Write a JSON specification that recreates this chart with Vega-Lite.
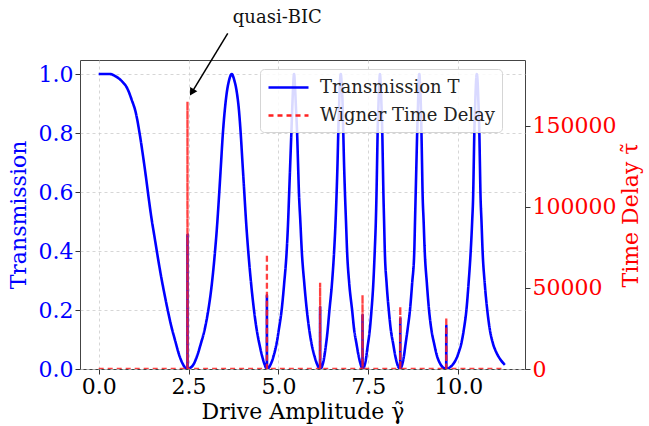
{
  "$schema": "https://vega.github.io/schema/vega-lite/v6.json",
  "autosize": "none",
  "width": 445,
  "height": 309,
  "padding": {"left": 80, "top": 60, "right": 124, "bottom": 57},
  "background": "white",
  "config": {
    "font": "DejaVu Serif",
    "view": {"stroke": "#444444", "strokeWidth": 1},
    "axis": {
      "labelFont": "DejaVu Serif",
      "titleFont": "DejaVu Serif",
      "labelFontSize": 22,
      "titleFontSize": 22,
      "titleFontWeight": "normal",
      "tickColor": "#333333",
      "tickSize": 5,
      "labelPadding": 2,
      "domain": false,
      "gridDash": [3, 3],
      "gridColor": "#cccccc",
      "gridWidth": 0.8
    },
    "legend": {
      "orient": "none", "legendX": 180, "legendY": 9,
      "symbolType": "M-1,0H3", "symbolSize": 400, "symbolStrokeWidth": 2.6,
      "labelFont": "DejaVu Serif", "labelFontSize": 18, "labelColor": "#222222", "labelOffset": 30, "labelLimit": 400,
      "fillColor": "rgba(255,255,255,0.85)", "strokeColor": "#d5d5d5", "cornerRadius": 4, "padding": 7, "rowPadding": 7
    }
  },
  "datasets": {
    "trans": [
      {"x": 0, "y": 1.0, "s": "Transmission T"},
      {"x": 0.3, "y": 1.0, "s": "Transmission T"},
      {"x": 0.5, "y": 0.99, "s": "Transmission T"},
      {"x": 0.65, "y": 0.975, "s": "Transmission T"},
      {"x": 0.8, "y": 0.95, "s": "Transmission T"},
      {"x": 0.92, "y": 0.912, "s": "Transmission T"},
      {"x": 1.03, "y": 0.87, "s": "Transmission T"},
      {"x": 1.15, "y": 0.79, "s": "Transmission T"},
      {"x": 1.23, "y": 0.725, "s": "Transmission T"},
      {"x": 1.31, "y": 0.655, "s": "Transmission T"},
      {"x": 1.39, "y": 0.58, "s": "Transmission T"},
      {"x": 1.47, "y": 0.51, "s": "Transmission T"},
      {"x": 1.55, "y": 0.45, "s": "Transmission T"},
      {"x": 1.63, "y": 0.39, "s": "Transmission T"},
      {"x": 1.72, "y": 0.325, "s": "Transmission T"},
      {"x": 1.82, "y": 0.26, "s": "Transmission T"},
      {"x": 1.92, "y": 0.2, "s": "Transmission T"},
      {"x": 2.02, "y": 0.145, "s": "Transmission T"},
      {"x": 2.13, "y": 0.095, "s": "Transmission T"},
      {"x": 2.22, "y": 0.055, "s": "Transmission T"},
      {"x": 2.32, "y": 0.022, "s": "Transmission T"},
      {"x": 2.39, "y": 0.007, "s": "Transmission T"},
      {"x": 2.468, "y": 0.0, "s": "Transmission T"},
      {"x": 2.47, "y": 0.455, "s": "Transmission T"},
      {"x": 2.472, "y": 0.0, "s": "Transmission T"},
      {"x": 2.56, "y": 0.005, "s": "Transmission T"},
      {"x": 2.64, "y": 0.016, "s": "Transmission T"},
      {"x": 2.74, "y": 0.045, "s": "Transmission T"},
      {"x": 2.84, "y": 0.085, "s": "Transmission T"},
      {"x": 2.95, "y": 0.135, "s": "Transmission T"},
      {"x": 3.05, "y": 0.2, "s": "Transmission T"},
      {"x": 3.14, "y": 0.28, "s": "Transmission T"},
      {"x": 3.23, "y": 0.39, "s": "Transmission T"},
      {"x": 3.29, "y": 0.48, "s": "Transmission T"},
      {"x": 3.35, "y": 0.59, "s": "Transmission T"},
      {"x": 3.4, "y": 0.69, "s": "Transmission T"},
      {"x": 3.45, "y": 0.79, "s": "Transmission T"},
      {"x": 3.51, "y": 0.88, "s": "Transmission T"},
      {"x": 3.56, "y": 0.934, "s": "Transmission T"},
      {"x": 3.63, "y": 0.98, "s": "Transmission T"},
      {"x": 3.7, "y": 1.0, "s": "Transmission T"},
      {"x": 3.77, "y": 0.98, "s": "Transmission T"},
      {"x": 3.84, "y": 0.94, "s": "Transmission T"},
      {"x": 3.9, "y": 0.88, "s": "Transmission T"},
      {"x": 3.95, "y": 0.8, "s": "Transmission T"},
      {"x": 4.0, "y": 0.7, "s": "Transmission T"},
      {"x": 4.05, "y": 0.6, "s": "Transmission T"},
      {"x": 4.1, "y": 0.5, "s": "Transmission T"},
      {"x": 4.16, "y": 0.4, "s": "Transmission T"},
      {"x": 4.24, "y": 0.29, "s": "Transmission T"},
      {"x": 4.32, "y": 0.2, "s": "Transmission T"},
      {"x": 4.4, "y": 0.13, "s": "Transmission T"},
      {"x": 4.47, "y": 0.085, "s": "Transmission T"},
      {"x": 4.55, "y": 0.042, "s": "Transmission T"},
      {"x": 4.62, "y": 0.014, "s": "Transmission T"},
      {"x": 4.678, "y": 0.0, "s": "Transmission T"},
      {"x": 4.68, "y": 0.25, "s": "Transmission T"},
      {"x": 4.682, "y": 0.0, "s": "Transmission T"},
      {"x": 4.74, "y": 0.006, "s": "Transmission T"},
      {"x": 4.8, "y": 0.02, "s": "Transmission T"},
      {"x": 4.88, "y": 0.05, "s": "Transmission T"},
      {"x": 4.95, "y": 0.087, "s": "Transmission T"},
      {"x": 5.02, "y": 0.14, "s": "Transmission T"},
      {"x": 5.09, "y": 0.2, "s": "Transmission T"},
      {"x": 5.16, "y": 0.29, "s": "Transmission T"},
      {"x": 5.23, "y": 0.4, "s": "Transmission T"},
      {"x": 5.27, "y": 0.5, "s": "Transmission T"},
      {"x": 5.3, "y": 0.6, "s": "Transmission T"},
      {"x": 5.33, "y": 0.7, "s": "Transmission T"},
      {"x": 5.36, "y": 0.8, "s": "Transmission T"},
      {"x": 5.39, "y": 0.9, "s": "Transmission T"},
      {"x": 5.41, "y": 0.96, "s": "Transmission T"},
      {"x": 5.435, "y": 1.0, "s": "Transmission T"},
      {"x": 5.46, "y": 0.96, "s": "Transmission T"},
      {"x": 5.49, "y": 0.88, "s": "Transmission T"},
      {"x": 5.52, "y": 0.8, "s": "Transmission T"},
      {"x": 5.545, "y": 0.7, "s": "Transmission T"},
      {"x": 5.57, "y": 0.6, "s": "Transmission T"},
      {"x": 5.61, "y": 0.5, "s": "Transmission T"},
      {"x": 5.65, "y": 0.4, "s": "Transmission T"},
      {"x": 5.72, "y": 0.29, "s": "Transmission T"},
      {"x": 5.79, "y": 0.2, "s": "Transmission T"},
      {"x": 5.85, "y": 0.14, "s": "Transmission T"},
      {"x": 5.92, "y": 0.087, "s": "Transmission T"},
      {"x": 6.0, "y": 0.045, "s": "Transmission T"},
      {"x": 6.08, "y": 0.015, "s": "Transmission T"},
      {"x": 6.158, "y": 0.0, "s": "Transmission T"},
      {"x": 6.16, "y": 0.21, "s": "Transmission T"},
      {"x": 6.162, "y": 0.0, "s": "Transmission T"},
      {"x": 6.21, "y": 0.008, "s": "Transmission T"},
      {"x": 6.26, "y": 0.03, "s": "Transmission T"},
      {"x": 6.31, "y": 0.07, "s": "Transmission T"},
      {"x": 6.36, "y": 0.12, "s": "Transmission T"},
      {"x": 6.42, "y": 0.2, "s": "Transmission T"},
      {"x": 6.49, "y": 0.29, "s": "Transmission T"},
      {"x": 6.55, "y": 0.4, "s": "Transmission T"},
      {"x": 6.59, "y": 0.5, "s": "Transmission T"},
      {"x": 6.62, "y": 0.6, "s": "Transmission T"},
      {"x": 6.645, "y": 0.7, "s": "Transmission T"},
      {"x": 6.665, "y": 0.8, "s": "Transmission T"},
      {"x": 6.69, "y": 0.9, "s": "Transmission T"},
      {"x": 6.71, "y": 0.965, "s": "Transmission T"},
      {"x": 6.735, "y": 1.0, "s": "Transmission T"},
      {"x": 6.76, "y": 0.965, "s": "Transmission T"},
      {"x": 6.785, "y": 0.9, "s": "Transmission T"},
      {"x": 6.805, "y": 0.8, "s": "Transmission T"},
      {"x": 6.825, "y": 0.7, "s": "Transmission T"},
      {"x": 6.85, "y": 0.6, "s": "Transmission T"},
      {"x": 6.88, "y": 0.5, "s": "Transmission T"},
      {"x": 6.91, "y": 0.4, "s": "Transmission T"},
      {"x": 6.97, "y": 0.29, "s": "Transmission T"},
      {"x": 7.05, "y": 0.2, "s": "Transmission T"},
      {"x": 7.11, "y": 0.13, "s": "Transmission T"},
      {"x": 7.17, "y": 0.087, "s": "Transmission T"},
      {"x": 7.23, "y": 0.045, "s": "Transmission T"},
      {"x": 7.29, "y": 0.015, "s": "Transmission T"},
      {"x": 7.338, "y": 0.0, "s": "Transmission T"},
      {"x": 7.34, "y": 0.183, "s": "Transmission T"},
      {"x": 7.342, "y": 0.0, "s": "Transmission T"},
      {"x": 7.38, "y": 0.006, "s": "Transmission T"},
      {"x": 7.43, "y": 0.03, "s": "Transmission T"},
      {"x": 7.48, "y": 0.075, "s": "Transmission T"},
      {"x": 7.54, "y": 0.13, "s": "Transmission T"},
      {"x": 7.59, "y": 0.2, "s": "Transmission T"},
      {"x": 7.64, "y": 0.29, "s": "Transmission T"},
      {"x": 7.68, "y": 0.4, "s": "Transmission T"},
      {"x": 7.71, "y": 0.5, "s": "Transmission T"},
      {"x": 7.73, "y": 0.6, "s": "Transmission T"},
      {"x": 7.745, "y": 0.7, "s": "Transmission T"},
      {"x": 7.76, "y": 0.8, "s": "Transmission T"},
      {"x": 7.785, "y": 0.9, "s": "Transmission T"},
      {"x": 7.805, "y": 0.965, "s": "Transmission T"},
      {"x": 7.825, "y": 1.0, "s": "Transmission T"},
      {"x": 7.845, "y": 0.965, "s": "Transmission T"},
      {"x": 7.865, "y": 0.9, "s": "Transmission T"},
      {"x": 7.89, "y": 0.8, "s": "Transmission T"},
      {"x": 7.905, "y": 0.7, "s": "Transmission T"},
      {"x": 7.92, "y": 0.6, "s": "Transmission T"},
      {"x": 7.94, "y": 0.5, "s": "Transmission T"},
      {"x": 7.96, "y": 0.4, "s": "Transmission T"},
      {"x": 8.01, "y": 0.29, "s": "Transmission T"},
      {"x": 8.07, "y": 0.2, "s": "Transmission T"},
      {"x": 8.13, "y": 0.13, "s": "Transmission T"},
      {"x": 8.19, "y": 0.087, "s": "Transmission T"},
      {"x": 8.25, "y": 0.045, "s": "Transmission T"},
      {"x": 8.32, "y": 0.012, "s": "Transmission T"},
      {"x": 8.388, "y": 0.0, "s": "Transmission T"},
      {"x": 8.39, "y": 0.17, "s": "Transmission T"},
      {"x": 8.392, "y": 0.0, "s": "Transmission T"},
      {"x": 8.43, "y": 0.01, "s": "Transmission T"},
      {"x": 8.48, "y": 0.035, "s": "Transmission T"},
      {"x": 8.54, "y": 0.087, "s": "Transmission T"},
      {"x": 8.6, "y": 0.14, "s": "Transmission T"},
      {"x": 8.66, "y": 0.2, "s": "Transmission T"},
      {"x": 8.72, "y": 0.29, "s": "Transmission T"},
      {"x": 8.78, "y": 0.4, "s": "Transmission T"},
      {"x": 8.8, "y": 0.5, "s": "Transmission T"},
      {"x": 8.82, "y": 0.6, "s": "Transmission T"},
      {"x": 8.84, "y": 0.7, "s": "Transmission T"},
      {"x": 8.86, "y": 0.8, "s": "Transmission T"},
      {"x": 8.885, "y": 0.9, "s": "Transmission T"},
      {"x": 8.9, "y": 0.965, "s": "Transmission T"},
      {"x": 8.92, "y": 1.0, "s": "Transmission T"},
      {"x": 8.94, "y": 0.965, "s": "Transmission T"},
      {"x": 8.96, "y": 0.9, "s": "Transmission T"},
      {"x": 8.98, "y": 0.8, "s": "Transmission T"},
      {"x": 8.995, "y": 0.7, "s": "Transmission T"},
      {"x": 9.01, "y": 0.6, "s": "Transmission T"},
      {"x": 9.04, "y": 0.5, "s": "Transmission T"},
      {"x": 9.07, "y": 0.4, "s": "Transmission T"},
      {"x": 9.13, "y": 0.29, "s": "Transmission T"},
      {"x": 9.19, "y": 0.2, "s": "Transmission T"},
      {"x": 9.26, "y": 0.13, "s": "Transmission T"},
      {"x": 9.33, "y": 0.087, "s": "Transmission T"},
      {"x": 9.41, "y": 0.045, "s": "Transmission T"},
      {"x": 9.5, "y": 0.018, "s": "Transmission T"},
      {"x": 9.58, "y": 0.005, "s": "Transmission T"},
      {"x": 9.668, "y": 0.0, "s": "Transmission T"},
      {"x": 9.67, "y": 0.146, "s": "Transmission T"},
      {"x": 9.672, "y": 0.0, "s": "Transmission T"},
      {"x": 9.75, "y": 0.004, "s": "Transmission T"},
      {"x": 9.85, "y": 0.015, "s": "Transmission T"},
      {"x": 9.95, "y": 0.035, "s": "Transmission T"},
      {"x": 10.02, "y": 0.058, "s": "Transmission T"},
      {"x": 10.09, "y": 0.087, "s": "Transmission T"},
      {"x": 10.16, "y": 0.135, "s": "Transmission T"},
      {"x": 10.23, "y": 0.2, "s": "Transmission T"},
      {"x": 10.29, "y": 0.29, "s": "Transmission T"},
      {"x": 10.35, "y": 0.4, "s": "Transmission T"},
      {"x": 10.39, "y": 0.5, "s": "Transmission T"},
      {"x": 10.42, "y": 0.6, "s": "Transmission T"},
      {"x": 10.435, "y": 0.7, "s": "Transmission T"},
      {"x": 10.45, "y": 0.8, "s": "Transmission T"},
      {"x": 10.475, "y": 0.9, "s": "Transmission T"},
      {"x": 10.495, "y": 0.965, "s": "Transmission T"},
      {"x": 10.52, "y": 1.0, "s": "Transmission T"},
      {"x": 10.545, "y": 0.965, "s": "Transmission T"},
      {"x": 10.565, "y": 0.9, "s": "Transmission T"},
      {"x": 10.59, "y": 0.8, "s": "Transmission T"},
      {"x": 10.605, "y": 0.7, "s": "Transmission T"},
      {"x": 10.62, "y": 0.6, "s": "Transmission T"},
      {"x": 10.65, "y": 0.5, "s": "Transmission T"},
      {"x": 10.68, "y": 0.4, "s": "Transmission T"},
      {"x": 10.74, "y": 0.29, "s": "Transmission T"},
      {"x": 10.81, "y": 0.2, "s": "Transmission T"},
      {"x": 10.88, "y": 0.135, "s": "Transmission T"},
      {"x": 10.96, "y": 0.09, "s": "Transmission T"},
      {"x": 11.06, "y": 0.057, "s": "Transmission T"},
      {"x": 11.16, "y": 0.035, "s": "Transmission T"},
      {"x": 11.3, "y": 0.014, "s": "Transmission T"}
    ],
    "delay": [
      {"x": 0, "d": 0, "s": "Wigner Time Delay"},
      {"x": 2.468, "d": 0, "s": "Wigner Time Delay"},
      {"x": 2.47, "d": 165000, "s": "Wigner Time Delay"},
      {"x": 2.472, "d": 0, "s": "Wigner Time Delay"},
      {"x": 4.678, "d": 0, "s": "Wigner Time Delay"},
      {"x": 4.68, "d": 70800, "s": "Wigner Time Delay"},
      {"x": 4.682, "d": 0, "s": "Wigner Time Delay"},
      {"x": 6.158, "d": 0, "s": "Wigner Time Delay"},
      {"x": 6.16, "d": 53300, "s": "Wigner Time Delay"},
      {"x": 6.162, "d": 0, "s": "Wigner Time Delay"},
      {"x": 7.338, "d": 0, "s": "Wigner Time Delay"},
      {"x": 7.34, "d": 45700, "s": "Wigner Time Delay"},
      {"x": 7.342, "d": 0, "s": "Wigner Time Delay"},
      {"x": 8.388, "d": 0, "s": "Wigner Time Delay"},
      {"x": 8.39, "d": 38500, "s": "Wigner Time Delay"},
      {"x": 8.392, "d": 0, "s": "Wigner Time Delay"},
      {"x": 9.668, "d": 0, "s": "Wigner Time Delay"},
      {"x": 9.67, "d": 31900, "s": "Wigner Time Delay"},
      {"x": 9.672, "d": 0, "s": "Wigner Time Delay"},
      {"x": 11.3, "d": 0, "s": "Wigner Time Delay"}
    ]
  },
  "layer": [
    {
      "layer": [
        {
          "data": {"name": "trans"},
          "mark": {"type": "line", "strokeWidth": 2.6, "interpolate": "monotone", "clip": true},
          "encoding": {
            "x": {
              "field": "x", "type": "quantitative",
              "scale": {"domain": [-0.52, 11.86], "nice": false, "zero": false},
              "axis": {"values": [0, 2.5, 5, 7.5, 10], "format": ".1f", "title": "Drive Amplitude γ̃", "labelColor": "black", "titleColor": "black", "grid": true, "titlePadding": 4}
            },
            "y": {
              "field": "y", "type": "quantitative",
              "scale": {"domain": [0, 1.0475], "nice": false, "zero": false},
              "axis": {"values": [0, 0.2, 0.4, 0.6, 0.8, 1.0], "format": ".1f", "title": "Transmission", "labelColor": "#0000ff", "titleColor": "#0000ff", "grid": true, "titlePadding": 8}
            },
            "color": {
              "field": "s", "type": "nominal",
              "scale": {"domain": ["Transmission T", "Wigner Time Delay"], "range": ["#0000ff", "#ff2020"]},
              "legend": {"title": null}
            },
            "strokeDash": {
              "field": "s", "type": "nominal",
              "scale": {"domain": ["Transmission T", "Wigner Time Delay"], "range": [[1, 0], [5, 4]]},
              "legend": {"title": null}
            }
          }
        },
        {
          "data": {"values": [{"x": 3.59, "y": 1.138, "x2": 2.592, "y2": 0.938}]},
          "mark": {"type": "rule", "color": "black", "strokeWidth": 1.5, "clip": false},
          "encoding": {
            "x": {"field": "x", "type": "quantitative"},
            "y": {"field": "y", "type": "quantitative"},
            "x2": {"field": "x2"},
            "y2": {"field": "y2"}
          }
        },
        {
          "data": {"values": [{"x": 2.592, "y": 0.938}]},
          "mark": {"type": "point", "shape": "triangle-up", "filled": true, "color": "black", "opacity": 1, "size": 70, "angle": 211, "clip": false},
          "encoding": {
            "x": {"field": "x", "type": "quantitative"},
            "y": {"field": "y", "type": "quantitative"}
          }
        },
        {
          "data": {"values": [{"x": 4.97, "y": 1.19, "label": "quasi-BIC"}]},
          "mark": {"type": "text", "font": "DejaVu Serif", "fontSize": 18, "color": "#111111", "align": "center", "baseline": "middle", "clip": false},
          "encoding": {
            "x": {"field": "x", "type": "quantitative"},
            "y": {"field": "y", "type": "quantitative"},
            "text": {"field": "label"}
          }
        }
      ]
    },
    {
      "data": {"name": "delay"},
      "mark": {"type": "line", "strokeWidth": 2.3, "strokeOpacity": 0.85, "clip": true},
      "encoding": {
        "x": {"field": "x", "type": "quantitative"},
        "y": {
          "field": "d", "type": "quantitative",
          "scale": {"domain": [0, 190700], "nice": false, "zero": false},
          "axis": {"orient": "right", "values": [0, 50000, 100000, 150000], "format": "d", "title": "Time Delay τ̃", "titleAngle": 270, "labelColor": "#ff0000", "titleColor": "#ff0000", "grid": false, "titlePadding": 27}
        },
        "color": {"field": "s", "type": "nominal"},
        "strokeDash": {"field": "s", "type": "nominal"}
      }
    }
  ],
  "resolve": {"scale": {"y": "independent"}}
}
